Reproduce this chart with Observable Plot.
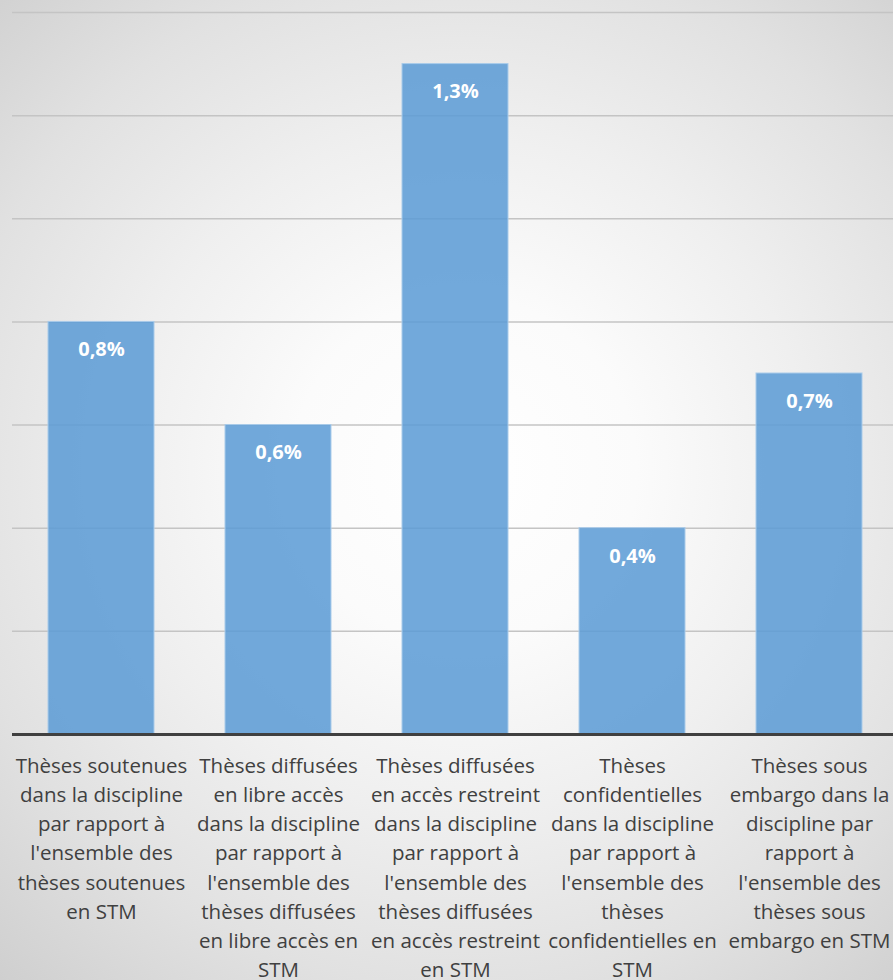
<!DOCTYPE html>
<html>
<head>
<meta charset="utf-8">
<script src="https://cdn.jsdelivr.net/npm/d3@7"></script>
<script src="https://cdn.jsdelivr.net/npm/@observablehq/plot@0.6"></script>
<style>
  html, body { margin: 0; padding: 0; }
  #chart {
    width: 893px; height: 980px; overflow: hidden;
    background: radial-gradient(circle at 52% 48%, #ffffff 0%, #fbfbfb 25%, #efefef 50%, #e1e1e1 75%, #cfcfcf 100%);
  }
  #chart svg { background: transparent; display: block; }
</style>
</head>
<body>
<div id="chart"></div>
<script>
const categories = [
  "Thèses soutenues\ndans la discipline\npar rapport à\nl'ensemble des\nthèses soutenues\nen STM",
  "Thèses diffusées\nen libre accès\ndans la discipline\npar rapport à\nl'ensemble des\nthèses diffusées\nen libre accès en\nSTM",
  "Thèses diffusées\nen accès restreint\ndans la discipline\npar rapport à\nl'ensemble des\nthèses diffusées\nen accès restreint\nen STM",
  "Thèses\nconfidentielles\ndans la discipline\npar rapport à\nl'ensemble des\nthèses\nconfidentielles en\nSTM",
  "Thèses sous\nembargo dans la\ndiscipline par\nrapport à\nl'ensemble des\nthèses sous\nembargo en STM"
];
const values = [0.8, 0.6, 1.3, 0.4, 0.7];
const gridTicks = [0.2, 0.4, 0.6, 0.8, 1.0, 1.2, 1.4];

const data = categories.map((c, i) => ({cat: c, value: values[i]}));
const fmt = v => v.toFixed(1).replace(".", ",") + "%";

const chart = Plot.plot({
  width: 893,
  height: 980,
  marginTop: 12,
  marginBottom: 246,
  marginLeft: 12,
  marginRight: 0,
  style: {background: "transparent", fontFamily: "'Open Sans', sans-serif"},
  x: {domain: categories, range: [12.5, 897.5], paddingInner: 0.4, paddingOuter: 0.2, axis: null},
  y: {domain: [0, 1.4], axis: null},
  marks: [
    Plot.ruleY(gridTicks, {stroke: "#c4c4c4", strokeWidth: 1.5}),
    Plot.barY(data, {x: "cat", y: "value", fill: "#5b9bd5", fillOpacity: 0.86, stroke: "#a9cbea", strokeWidth: 1}),
    Plot.text(data, {x: "cat", y: "value", text: d => fmt(d.value), dy: 28, fill: "white", fontWeight: "bold", fontSize: 20}),
    Plot.ruleY([0], {stroke: "#404040", strokeWidth: 3}),
    Plot.text(data, {x: "cat", y: 0, text: "cat", lineAnchor: "top", dy: 18, fontSize: 20.5, lineHeight: 1.42, fill: "#404040"})
  ]
});
document.getElementById("chart").appendChild(chart);
</script>
</body>
</html>
